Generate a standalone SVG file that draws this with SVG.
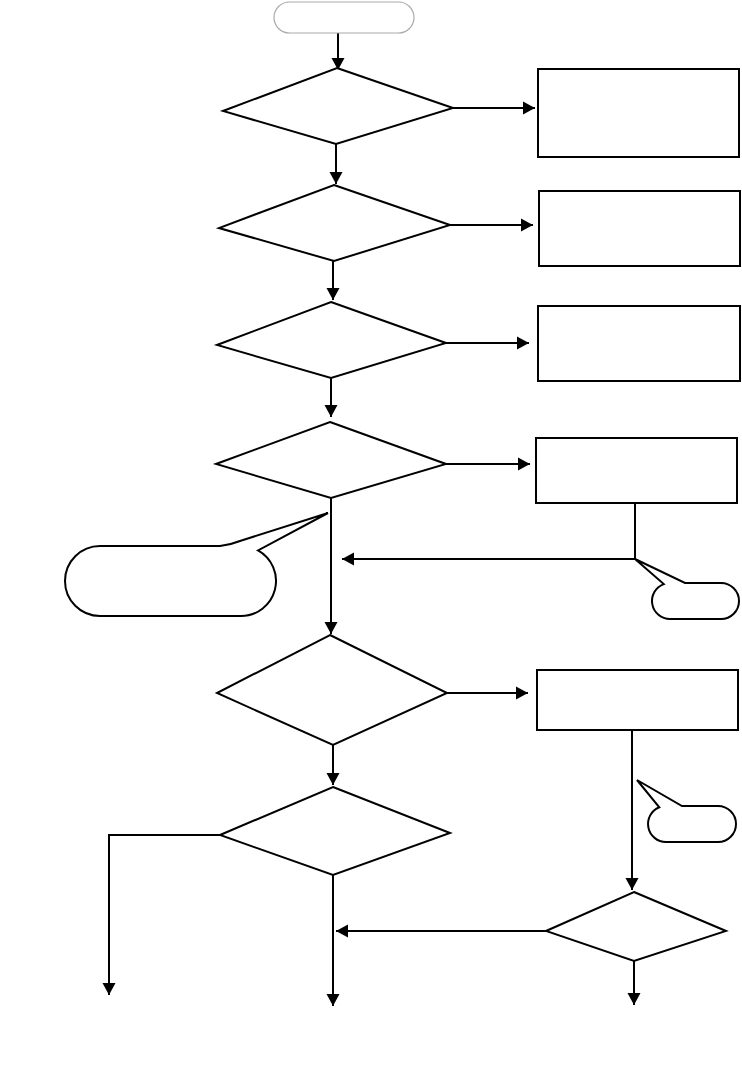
<svg xmlns="http://www.w3.org/2000/svg" width="742" height="1088" viewBox="0 0 742 1088">
<style>
.s{fill:#fff;stroke:#000;stroke-width:2}
.c{fill:none;stroke:#000;stroke-width:2}
.t{fill:#fff;stroke:#aaa;stroke-width:1.2}
</style>
<defs>
<marker id="a" markerUnits="userSpaceOnUse" markerWidth="14" markerHeight="14" refX="12" refY="7" orient="auto"><path d="M0,0.5 L12,7 L0,13.5 Z" fill="#000"/></marker>
</defs>
<rect width="742" height="1088" fill="#fff"/>
<g id="connectors">
<line class="c" x1="338" y1="33" x2="338" y2="70" marker-end="url(#a)"/>
<line class="c" x1="453" y1="108" x2="535" y2="108" marker-end="url(#a)"/>
<line class="c" x1="336" y1="144" x2="336" y2="184" marker-end="url(#a)"/>
<line class="c" x1="450" y1="225" x2="533" y2="225" marker-end="url(#a)"/>
<line class="c" x1="333" y1="261" x2="333" y2="300" marker-end="url(#a)"/>
<line class="c" x1="446" y1="343" x2="529" y2="343" marker-end="url(#a)"/>
<line class="c" x1="331" y1="378" x2="331" y2="417" marker-end="url(#a)"/>
<line class="c" x1="446" y1="464" x2="530" y2="464" marker-end="url(#a)"/>
<line class="c" x1="331" y1="498" x2="331" y2="634" marker-end="url(#a)"/>
<polyline class="c" points="635,503 635,559 342,559" marker-end="url(#a)"/>
<line class="c" x1="447" y1="693" x2="528" y2="693" marker-end="url(#a)"/>
<line class="c" x1="632" y1="730" x2="632" y2="890" marker-end="url(#a)"/>
<line class="c" x1="333" y1="745" x2="333" y2="785" marker-end="url(#a)"/>
<polyline class="c" points="220,835 109,835 109,995" marker-end="url(#a)"/>
<line class="c" x1="333" y1="875" x2="333" y2="1006" marker-end="url(#a)"/>
<line class="c" x1="546" y1="931" x2="336" y2="931" stroke-width="3" marker-end="url(#a)"/>
<line class="c" x1="634" y1="961" x2="634" y2="1005" marker-end="url(#a)"/>
</g>
<g id="start"><rect class="t" x="274" y="2" width="140" height="31" rx="15.5"/></g>
<g id="d1"><polygon class="s" points="337,68 453,108 336,144 223,111"/></g>
<g id="r1"><rect class="s" x="538" y="69" width="201" height="88"/></g>
<g id="d2"><polygon class="s" points="334,185 450,225 334,261 219,228"/></g>
<g id="r2"><rect class="s" x="539" y="191" width="201" height="75"/></g>
<g id="d3"><polygon class="s" points="331,302 446,343 331,378 217,345"/></g>
<g id="r3"><rect class="s" x="538" y="306" width="202" height="75"/></g>
<g id="d4"><polygon class="s" points="330,422 446,464 331,498 216,464"/></g>
<g id="r4"><rect class="s" x="536" y="438" width="201" height="65"/></g>
<g id="callout1"><path class="s" d="M100,546 L220,546 Q230,545 240,541 L328,513 L258,550.4 A35,35 0 0 1 241,616 L100,616 A35,35 0 0 1 100,546 Z"/></g>
<g id="callout2"><path class="s" d="M685,583 L721,583 A18,18 0 0 1 721,619 L670,619 A18,18 0 0 1 663.8,584.1 L635,559 Z"/></g>
<g id="d5"><polygon class="s" points="330,635 447,693 333,745 217,693"/></g>
<g id="r5"><rect class="s" x="537" y="670" width="201" height="60"/></g>
<g id="callout3"><path class="s" d="M682,806 L718,806 A18,18 0 0 1 718,842 L666,842 A18,18 0 0 1 659.3,807.3 L637,780 Z"/></g>
<g id="d6"><polygon class="s" points="333,787 450,833 333,875 220,835"/></g>
<g id="d7"><polygon class="s" points="634,892 726,931 634,961 546,931"/></g>
</svg>
